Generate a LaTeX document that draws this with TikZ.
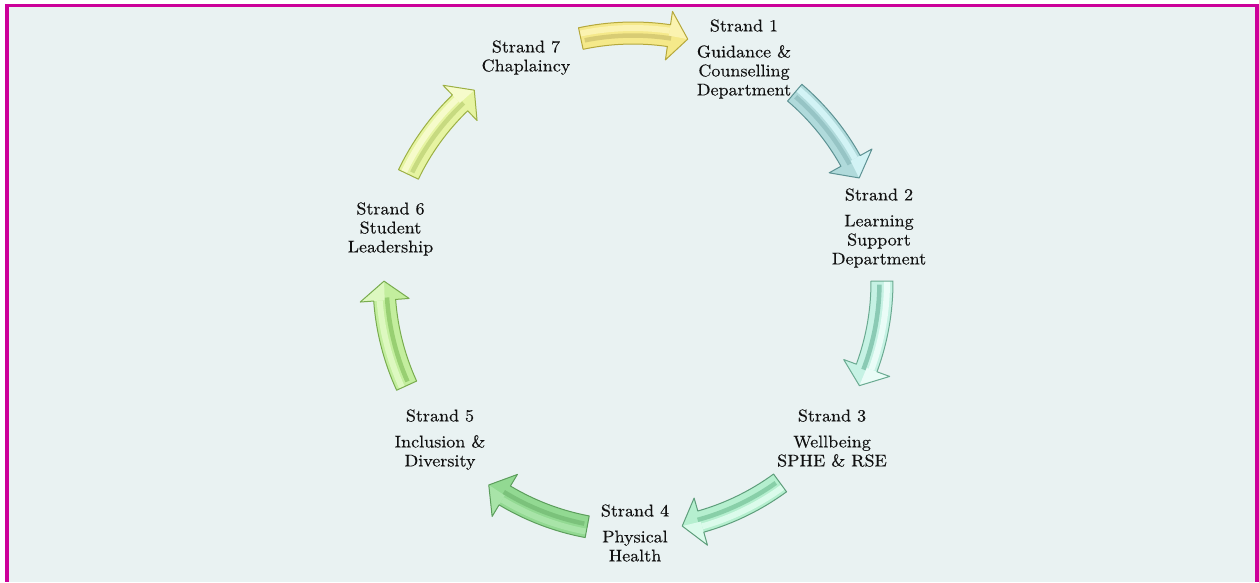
\documentclass[tikz,border=0pt]{standalone}
\usepackage{fontspec}
\newfontfamily\strandfont{lmroman10-regular.otf}[FakeStretch=1.06, FakeBold=0.3]

\definecolor{frame}{HTML}{CC0099}
\definecolor{bg}{HTML}{E9F2F2}
\definecolor{txt}{HTML}{111111}

% yellow (7 -> 1)
\definecolor{yBase}{HTML}{F5E98A}\definecolor{yLight}{HTML}{FBF3B0}
\definecolor{yGroove}{HTML}{D8CC74}\definecolor{yLine}{HTML}{B5A83C}
% teal (1 -> 2)
\definecolor{tBase}{HTML}{B0DADB}\definecolor{tLight}{HTML}{D2F3F5}
\definecolor{tGroove}{HTML}{96C4C5}\definecolor{tLine}{HTML}{5D9293}
% mint (2 -> 3)
\definecolor{mBase}{HTML}{C6F2E4}\definecolor{mLight}{HTML}{EAFCF7}
\definecolor{mGroove}{HTML}{8ACAB4}\definecolor{mLine}{HTML}{6AAA91}
% sea green (3 -> 4)
\definecolor{sBase}{HTML}{B5EFCF}\definecolor{sLight}{HTML}{DBFBEB}
\definecolor{sGroove}{HTML}{88CFA8}\definecolor{sLine}{HTML}{5E9E7B}
% green (4 -> 5)
\definecolor{gBase}{HTML}{92D992}\definecolor{gLight}{HTML}{A8E4A8}
\definecolor{gGroove}{HTML}{7BC27B}\definecolor{gLine}{HTML}{5C9E5C}
% lime (5 -> 6)
\definecolor{lBase}{HTML}{C3EE9E}\definecolor{lLight}{HTML}{DDF8C0}
\definecolor{lGroove}{HTML}{98CF72}\definecolor{lLine}{HTML}{78AC4E}
% pale lime (6 -> 7)
\definecolor{pBase}{HTML}{E6F4A2}\definecolor{pLight}{HTML}{F6FBCB}
\definecolor{pGroove}{HTML}{C7DA80}\definecolor{pLine}{HTML}{9CB044}

% outline of one curved block arrow, centred on angle 0 of the ring,
% running clockwise from +12.4 deg (tail) to -12.4 deg (tip)
\newcommand\ringarrowpath{%
  (12.4:238) arc[start angle=12.4, end angle=-8.0, radius=238]
  -- (-8.0:224.5) -- (-12.4:249) -- (-8.0:273.5) -- (-8.0:260)
  arc[start angle=-8.0, end angle=12.4, radius=260] -- cycle}

% #1 angle (clockwise, screen), #2 base, #3 light, #4 groove, #5 outline
\newcommand\ringarrow[5]{%
  \begin{scope}[shift={(ring)}, rotate=-#1]
    \fill[#2] \ringarrowpath;
    \fill[#3] (12.4:251) arc[start angle=12.4, end angle=-8.0, radius=251]
      -- (-8.0:257) arc[start angle=-8.0, end angle=12.4, radius=257] -- cycle;
    \fill[#3] (-8.0:249) -- (-12.4:249) -- (-8.0:273.5) -- cycle;
    \draw[#4, line width=4.5pt] (11.6:246.5) arc[start angle=11.6, end angle=-8.6, radius=246.5];
    \draw[#5, line width=1pt, line join=round] \ringarrowpath;
  \end{scope}}

\begin{document}
\begin{tikzpicture}[x=1pt, y=1pt,
  strand/.style={anchor=north, align=center, inner sep=0pt, text=txt,
                 font=\strandfont\fontsize{17}{19}\selectfont}]
  \useasboundingbox (0,0) rectangle (1259,-582);
  \fill[white] (0,0) rectangle (1259,-582);
  \fill[frame] (5,-4) rectangle (1259,-582);
  \fill[bg] (9,-7) rectangle (1255,-582);

  \coordinate (ring) at (633,-282);

  % the seven arrows of the cycle
  \ringarrow{270.3}{yBase}{yLight}{yGroove}{yLine}
  \ringarrow{322.9}{tBase}{tLight}{tGroove}{tLine}
  \ringarrow{12.2}{mBase}{mLight}{mGroove}{mLine}
  \ringarrow{66.2}{sBase}{sLight}{sGroove}{sLine}
  \ringarrow{113.0}{gBase}{gLight}{gGroove}{gLine}
  \ringarrow{167.8}{lBase}{lLight}{lGroove}{lLine}
  \ringarrow{218.0}{pBase}{pLight}{pGroove}{pLine}

  % strand labels
  \node[strand] (s1) at (744,-19.2) {Strand 1\\[7pt]Guidance \&\\Counselling\\Department};
  \node[strand] (s2) at (879,-188.2) {Strand 2\\[7pt]Learning\\Support\\Department};
  \node[strand] (s3) at (832,-409.2) {Strand 3\\[7pt]Wellbeing\\SPHE \& RSE};
  \node[strand] (s4) at (635,-504.2) {Strand 4\\[7pt]Physical\\Health};
  \node[strand] (s5) at (440,-409.2) {Strand 5\\[7pt]Inclusion \&\\Diversity};
  \node[strand] (s6) at (390.5,-202.2) {Strand 6\\Student\\Leadership};
  \node[strand] (s7) at (526,-40.2) {Strand 7\\Chaplaincy};
\end{tikzpicture}
\end{document}
